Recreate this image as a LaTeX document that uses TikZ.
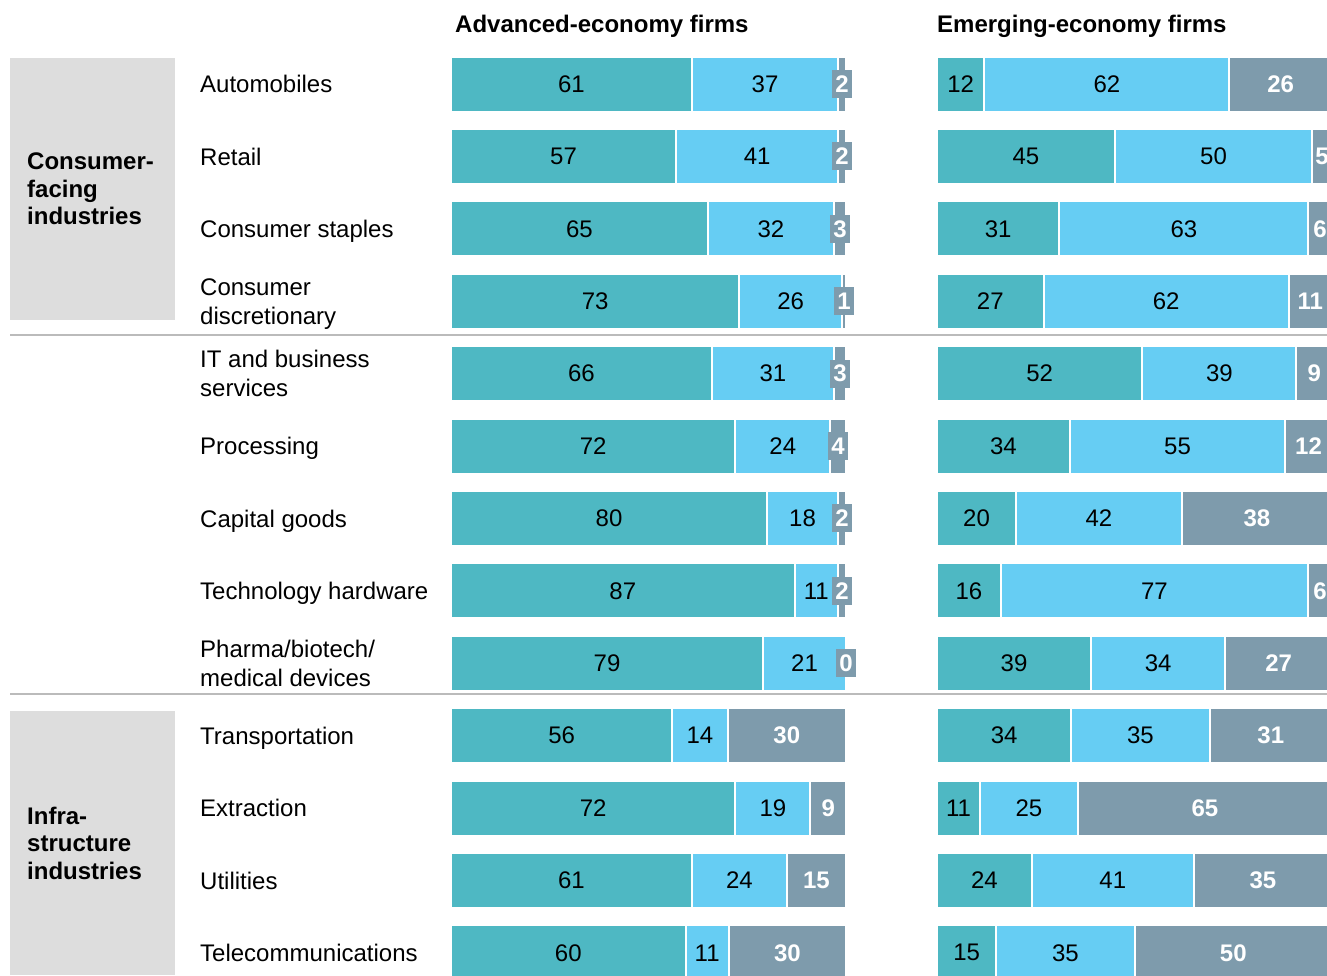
\documentclass[tikz,border=0pt]{standalone}
\usepackage{fontspec}
\setmainfont{Liberation Sans}

\definecolor{tealbar}{HTML}{4EB8C3}
\definecolor{skybar}{HTML}{66CDF3}
\definecolor{slatebar}{HTML}{7E9BAC}
\definecolor{groupbg}{HTML}{DDDDDD}
\definecolor{ruleline}{HTML}{BBBBBB}

\tikzset{
  seg/.style={draw=white, line width=2pt},
  num/.style={inner sep=0pt, font=\fontsize{24}{29}\selectfont},
  numw/.style={num, text=white, font=\fontsize{24}{29}\selectfont\bfseries},
  tag/.style={numw, fill=slatebar, minimum width=20pt, minimum height=28pt},
  rowlab/.style={anchor=west, align=left, inner sep=0pt, text depth=0pt, font=\fontsize{24}{29}\selectfont},
  grouplab/.style={anchor=west, align=left, inner sep=0pt, text depth=0pt, font=\fontsize{24}{27.5}\selectfont\bfseries},
  head/.style={anchor=west, inner sep=0pt, text depth=0pt, font=\fontsize{24}{29}\selectfont\bfseries}
}

\begin{document}
\begin{tikzpicture}[x=1pt,y=-1pt]
  \useasboundingbox (0,0) rectangle (1327,975);
  \clip (0,0) rectangle (1327,975);
  % group panels
  \fill[groupbg] (10,58) rectangle (175,320);
  \fill[groupbg] (10,711) rectangle (175,975);
  \node[grouplab] (consumer) at (27,189) {Consumer-\\facing\\industries};
  \node[grouplab] (infra) at (27,843) {Infra-\\structure\\industries};
  % column heads
  \node[head] (advhead) at (455,23.5) {Advanced-economy firms};
  \node[head] (emhead) at (937,23.5) {Emerging-economy firms};
  % rules between groups
  \draw[ruleline, line width=2pt] (10,335) -- (1327,335);
  \draw[ruleline, line width=2pt] (10,694) -- (1327,694);
  % bars (each bar scaled to its own total)
  \foreach \i/\lbl/\advA/\advB/\advC/\emA/\emB/\emC in {
      1/Automobiles/61/37/2/12/62/26,
      2/Retail/57/41/2/45/50/5,
      3/Consumer staples/65/32/3/31/63/6,
      4/{Consumer\\discretionary}/73/26/1/27/62/11,
      5/{IT and business\\services}/66/31/3/52/39/9,
      6/Processing/72/24/4/34/55/12,
      7/Capital goods/80/18/2/20/42/38,
      8/Technology hardware/87/11/2/16/77/6,
      9/{Pharma/biotech/\\medical devices}/79/21/0/39/34/27,
      10/Transportation/56/14/30/34/35/31,
      11/Extraction/72/19/9/11/25/65,
      12/Utilities/61/24/15/24/41/35,
      13/Telecommunications/60/11/30/15/35/50}{
    \pgfmathsetmacro\yc{84+(\i-1)*72.4}
    \pgfmathsetmacro\ya{\yc-27.5}
    \pgfmathsetmacro\yb{\yc+27.5}
    \node[rowlab] (lab-\i) at (200,\yc) {\lbl};
    % advanced economies
    \pgfmathsetmacro\sc{395/(\advA+\advB+\advC)}
    \pgfmathsetmacro\xa{451+\sc*\advA}
    \pgfmathsetmacro\xb{\xa+\sc*\advB}
    \pgfmathsetmacro\xc{\xb+\sc*\advC}
    \draw[seg, fill=tealbar] (451,\ya) rectangle (\xa,\yb);
    \draw[seg, fill=skybar] (\xa,\ya) rectangle (\xb,\yb);
    \node[num] (adv-\i-a) at ({(451+\xa)/2},\yc) {\advA};
    \node[num] (adv-\i-b) at ({(\xa+\xb)/2},\yc) {\advB};
    \ifnum\advC<5
      \ifnum\advC>0 \draw[seg, fill=slatebar] (\xb,\ya) rectangle (\xc,\yb);\fi
      \node[tag] (adv-\i-c) at ({(\xb+\xc)/2},\yc) {\advC};
    \else
      \draw[seg, fill=slatebar] (\xb,\ya) rectangle (\xc,\yb);
      \node[numw] (adv-\i-c) at ({(\xb+\xc)/2},\yc) {\advC};
    \fi
    % emerging economies
    \pgfmathsetmacro\sc{395/(\emA+\emB+\emC)}
    \pgfmathsetmacro\xa{937+\sc*\emA}
    \pgfmathsetmacro\xb{\xa+\sc*\emB}
    \pgfmathsetmacro\xc{\xb+\sc*\emC}
    \draw[seg, fill=tealbar] (937,\ya) rectangle (\xa,\yb);
    \draw[seg, fill=skybar] (\xa,\ya) rectangle (\xb,\yb);
    \draw[seg, fill=slatebar] (\xb,\ya) rectangle (\xc,\yb);
    \node[num] (em-\i-a) at ({(937+\xa)/2},\yc) {\emA};
    \node[num] (em-\i-b) at ({(\xa+\xb)/2},\yc) {\emB};
    \node[numw] (em-\i-c) at ({(\xb+\xc)/2},\yc) {\emC};
  }
\end{tikzpicture}
\end{document}
